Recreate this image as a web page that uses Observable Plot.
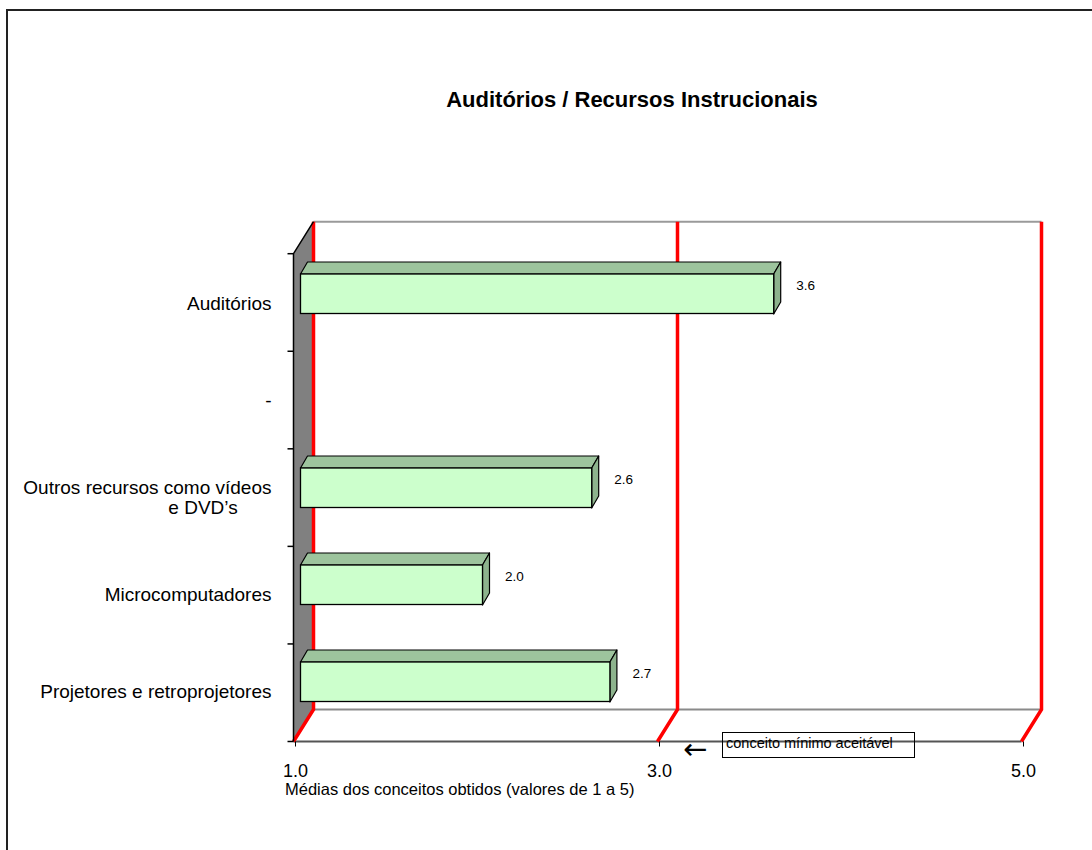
<!DOCTYPE html>
<html><head><meta charset="utf-8">
<script src="https://cdn.jsdelivr.net/npm/d3@7"></script>
<script src="https://cdn.jsdelivr.net/npm/@observablehq/plot@0.6"></script>
<style>
body{margin:0;overflow:hidden;background:#fff;font-family:"Liberation Sans",Arial,sans-serif;}
#wrap{position:relative;width:1092px;height:850px;overflow:hidden;background:#fff}
#frame{position:absolute;left:6px;top:9px;width:1200px;height:1000px;border:2px solid #222;}
#chart{position:absolute;left:0;top:0}
#title{position:absolute;left:332px;width:600px;top:89px;line-height:22px;text-align:center;font-weight:bold;font-size:22px;color:#000;white-space:nowrap}
#xlabel{position:absolute;left:285px;top:781px;font-size:16.5px;line-height:17px;white-space:nowrap;color:#000}
#arrow{position:absolute;left:683px;top:735px;font-family:"DejaVu Sans",sans-serif;font-size:29px;line-height:29px;color:#000}
#note{position:absolute;left:722px;top:732px;width:193px;height:26px;box-sizing:border-box;border:1.5px solid #000;font-size:14.5px;line-height:14px;padding:3px 0 0 3px;white-space:nowrap;color:#000}
</style></head><body>
<div id="wrap">
<div id="frame"></div>
<div id="chart"></div>
<div id="title">Auditórios / Recursos Instrucionais</div>
<div id="xlabel">Médias dos conceitos obtidos (valores de 1 a 5)</div>
<div id="arrow">←</div>
<div id="note">conceito mínimo aceitável</div>
</div>
<script>
// ---- data ----
const categories = ["Auditórios", "-", "Outros recursos como vídeos\ne DVD’s", "Microcomputadores", "Projetores e retroprojetores"];
const values = [3.6, null, 2.6, 2.0, 2.7];
const xDomain = [1, 5];
const xTicks = [1, 3, 5];
const gridValues = [1, 3, 5];

// ---- style constants ----
const DEPTH = [20, -32];      // 3D wall depth offset (px)
const BAR_DEPTH = [7, -12];   // bar depth offset (px)
const BAR_SHIFT = 7;
const INSET_TOP = 19, INSET_BOTTOM = 38.5;

const rows = categories.map((c, i) => ({cat: c, value: values[i]})).filter(d => d.value != null);

function bandInfo(dims) {
  const y0 = dims.marginTop, y1 = dims.height - dims.marginBottom;
  return {y0, y1, bw: (y1 - y0) / categories.length};
}

function background(index, scales, _v, dims) {
  const x = scales.x;
  const {y0, y1, bw} = bandInfo(dims);
  const x0 = x(xDomain[0]), xE = x(xDomain[1]);
  const [ddx, ddy] = DEPTH;
  const g = d3.create("svg:g");
  g.append("path").attr("d", `M${x0},${y0}L${x0+ddx},${y0+ddy}L${x0+ddx},${y1+ddy}L${x0},${y1}Z`).attr("fill", "#808080");
  g.append("line").attr("x1", x0+ddx).attr("x2", xE+ddx).attr("y1", y0+ddy).attr("y2", y0+ddy).attr("stroke", "#9a9a9a").attr("stroke-width", 2);
  g.append("line").attr("x1", x0+ddx).attr("x2", xE+ddx).attr("y1", y1+ddy).attr("y2", y1+ddy).attr("stroke", "#8a8a8a").attr("stroke-width", 2);
  g.append("line").attr("x1", x0).attr("x2", xE).attr("y1", y1).attr("y2", y1).attr("stroke", "#555").attr("stroke-width", 2);
  for (const v of gridValues) {
    g.append("path").attr("d", `M${x(v)+ddx},${y0+ddy}V${y1+ddy}L${x(v)},${y1}`)
      .attr("fill", "none").attr("stroke", "#ff0000").attr("stroke-width", 3.5);
  }
  g.append("path").attr("d", `M${x0},${y1}V${y0}L${x0+ddx},${y0+ddy}`).attr("fill", "none").attr("stroke", "#000").attr("stroke-width", 1.5);
  for (let k = 0; k <= categories.length; k++) {
    const yy = y0 + k * bw;
    g.append("line").attr("x1", x0-6).attr("x2", x0).attr("y1", yy).attr("y2", yy).attr("stroke", "#000").attr("stroke-width", 1.5);
  }
  return g.node();
}

function barFaces(index, scales, _v, dims) {
  const x = scales.x, y = scales.y;
  const {bw} = bandInfo(dims);
  const [bdx, bdy] = BAR_DEPTH;
  const g = d3.create("svg:g").attr("stroke", "#000").attr("stroke-width", 1.2).attr("stroke-linejoin", "round");
  for (const d of rows) {
    const xl = x(xDomain[0]) + BAR_SHIFT, xr = x(d.value) + BAR_SHIFT;
    const yt = y(d.cat) + INSET_TOP, yb = y(d.cat) + bw - INSET_BOTTOM;
    g.append("path").attr("d", `M${xl},${yt}L${xl+bdx},${yt+bdy}L${xr+bdx},${yt+bdy}L${xr},${yt}Z`).attr("fill", "#9dc49d");
    g.append("path").attr("d", `M${xr},${yt}L${xr+bdx},${yt+bdy}L${xr+bdx},${yb+bdy}L${xr},${yb}Z`).attr("fill", "#8db38d");
  }
  return g.node();
}

const chart = Plot.plot({
  width: 1092,
  height: 850,
  marginLeft: 293.5,
  marginRight: 70.5,
  marginTop: 253.7,
  marginBottom: 108.5,
  style: {fontFamily: "'Liberation Sans', Arial, sans-serif", background: "transparent", color: "#000"},
  x: {domain: xDomain},
  y: {domain: categories, padding: 0, axis: null},
  marks: [
    background,
    barFaces,
    Plot.barX(rows, {y: "cat", x1: d => xDomain[0], x2: "value", dx: BAR_SHIFT, insetTop: INSET_TOP, insetBottom: INSET_BOTTOM, fill: "#ccffcc", stroke: "#000", strokeWidth: 1.3}),
    Plot.text(rows, {x: "value", y: "cat", text: d => d.value.toFixed(1), dx: BAR_SHIFT + 22, dy: -18, textAnchor: "start", fontSize: 13.5, fill: "#000"}),
    Plot.text(categories, {filter: c => !c.includes("\n"), y: c => c, text: c => c, frameAnchor: "left", dx: -22.5, textAnchor: "end", fontSize: 19, fill: "#000"}),
    Plot.text(categories, {filter: c => c.includes("\n"), y: c => c, text: c => c.split("\n")[0], frameAnchor: "left", dx: -22.5, dy: -10, textAnchor: "end", fontSize: 19, fill: "#000"}),
    Plot.text(categories, {filter: c => c.includes("\n"), y: c => c, text: c => c.split("\n")[1], frameAnchor: "left", dx: -91, dy: 10, textAnchor: "middle", fontSize: 19, fill: "#000"}),
    Plot.axisX({ticks: xTicks, tickFormat: d => d.toFixed(1), tickSize: 5, tickPadding: 17.5, fontSize: 18, stroke: "#000", fill: "#000", dx: 1.5, label: null})
  ]
});
document.getElementById("chart").appendChild(chart);
</script>
</body></html>
